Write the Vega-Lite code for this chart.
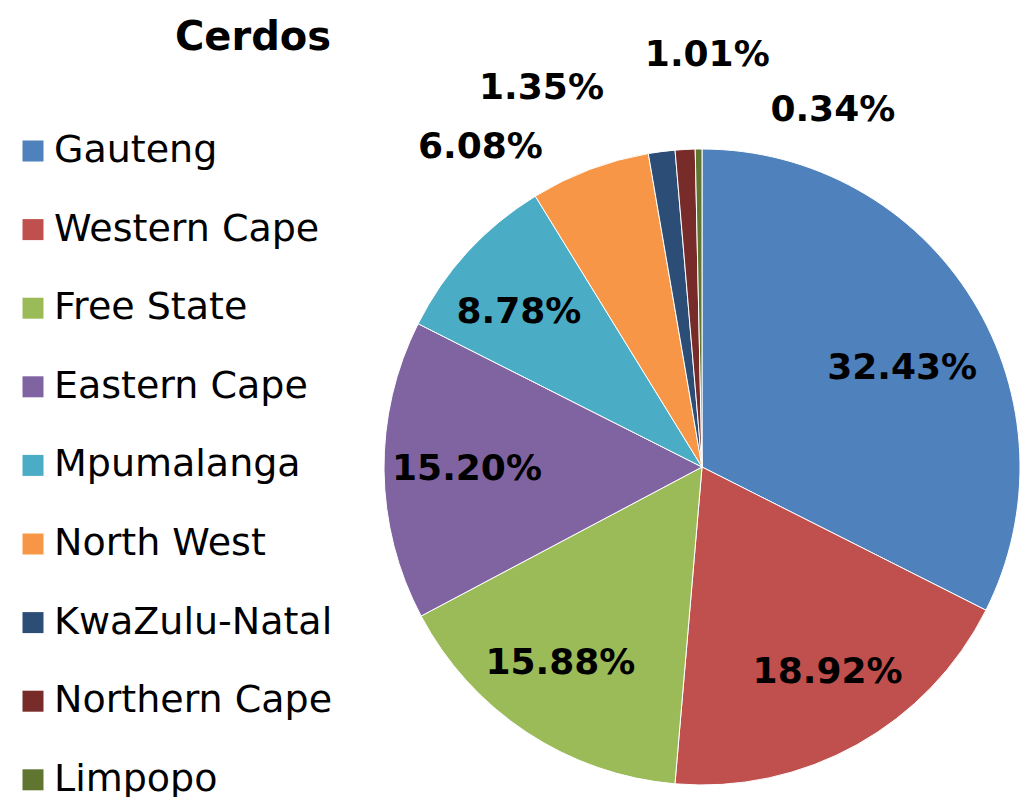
{
  "$schema": "https://vega.github.io/schema/vega-lite/v6.json",
  "width": 662,
  "height": 660,
  "autosize": {"type": "none"},
  "padding": {"left": 371, "top": 137, "right": 0, "bottom": 0},
  "background": "white",
  "title": {
    "text": "Cerdos",
    "font": "DejaVu Sans",
    "fontSize": 40,
    "fontWeight": "bold",
    "color": "black",
    "anchor": "start",
    "frame": "group",
    "dx": -196,
    "offset": -22
  },
  "data": {
    "values": [
      {"provincia": "Gauteng", "pct": 32.43, "rank": 1},
      {"provincia": "Western Cape", "pct": 18.92, "rank": 2},
      {"provincia": "Free State", "pct": 15.88, "rank": 3},
      {"provincia": "Eastern Cape", "pct": 15.20, "rank": 4},
      {"provincia": "Mpumalanga", "pct": 8.78, "rank": 5},
      {"provincia": "North West", "pct": 6.08, "rank": 6},
      {"provincia": "KwaZulu-Natal", "pct": 1.35, "rank": 7},
      {"provincia": "Northern Cape", "pct": 1.01, "rank": 8},
      {"provincia": "Limpopo", "pct": 0.34, "rank": 9}
    ]
  },
  "transform": [
    {"calculate": "format(datum.pct, '.2f') + '%'", "as": "label"}
  ],
  "encoding": {
    "theta": {"field": "pct", "type": "quantitative", "stack": true},
    "order": {"field": "rank", "type": "quantitative"}
  },
  "layer": [
    {
      "mark": {"type": "arc", "outerRadius": 318, "stroke": "white", "strokeWidth": 1},
      "encoding": {
        "color": {
          "field": "provincia",
          "type": "nominal",
          "scale": {
            "domain": ["Gauteng", "Western Cape", "Free State", "Eastern Cape", "Mpumalanga", "North West", "KwaZulu-Natal", "Northern Cape", "Limpopo"],
            "range": ["#4F81BD", "#C0504D", "#9BBB59", "#8064A2", "#4BACC6", "#F79646", "#2C4D75", "#772C2A", "#5F7530"]
          },
          "legend": {
            "title": null,
            "orient": "none",
            "legendX": -357,
            "legendY": -5,
            "padding": 0,
            "symbolType": "square",
            "symbolSize": 441,
            "symbolStrokeWidth": 0,
            "labelFont": "DejaVu Sans",
            "labelFontSize": 38,
            "labelColor": "black",
            "labelOffset": 2,
            "labelLimit": 400,
            "rowPadding": 40.6
          }
        }
      }
    },
    {
      "mark": {"type": "text", "radius": 235, "dy": 24, "font": "DejaVu Sans", "fontSize": 36, "fontWeight": "bold", "color": "black"},
      "encoding": {"text": {"condition": {"test": "datum.provincia == 'Gauteng'", "field": "label"}, "value": ""}}
    },
    {
      "mark": {"type": "text", "radius": 235, "dx": 11, "font": "DejaVu Sans", "fontSize": 36, "fontWeight": "bold", "color": "black"},
      "encoding": {"text": {"condition": {"test": "datum.provincia == 'Western Cape'", "field": "label"}, "value": ""}}
    },
    {
      "mark": {"type": "text", "radius": 235, "dx": -12, "font": "DejaVu Sans", "fontSize": 36, "fontWeight": "bold", "color": "black"},
      "encoding": {"text": {"condition": {"test": "datum.provincia == 'Free State'", "field": "label"}, "value": ""}}
    },
    {
      "mark": {"type": "text", "radius": 235, "font": "DejaVu Sans", "fontSize": 36, "fontWeight": "bold", "color": "black"},
      "encoding": {"text": {"condition": {"test": "datum.provincia == 'Eastern Cape'", "field": "label"}, "value": ""}}
    },
    {
      "mark": {"type": "text", "radius": 235, "dx": -10, "dy": 4, "font": "DejaVu Sans", "fontSize": 36, "fontWeight": "bold", "color": "black"},
      "encoding": {"text": {"condition": {"test": "datum.provincia == 'Mpumalanga'", "field": "label"}, "value": ""}}
    },
    {
      "mark": {"type": "text", "radius": 390, "dx": -84, "dy": 45, "font": "DejaVu Sans", "fontSize": 36, "fontWeight": "bold", "color": "black"},
      "encoding": {"text": {"condition": {"test": "datum.provincia == 'North West'", "field": "label"}, "value": ""}}
    },
    {
      "mark": {"type": "text", "radius": 390, "dx": -111, "dy": 8, "font": "DejaVu Sans", "fontSize": 36, "fontWeight": "bold", "color": "black"},
      "encoding": {"text": {"condition": {"test": "datum.provincia == 'KwaZulu-Natal'", "field": "label"}, "value": ""}}
    },
    {
      "mark": {"type": "text", "radius": 390, "dx": 26, "dy": -23, "font": "DejaVu Sans", "fontSize": 36, "fontWeight": "bold", "color": "black"},
      "encoding": {"text": {"condition": {"test": "datum.provincia == 'Northern Cape'", "field": "label"}, "value": ""}}
    },
    {
      "mark": {"type": "text", "radius": 390, "dx": 135, "dy": 33, "font": "DejaVu Sans", "fontSize": 36, "fontWeight": "bold", "color": "black"},
      "encoding": {"text": {"condition": {"test": "datum.provincia == 'Limpopo'", "field": "label"}, "value": ""}}
    }
  ],
  "config": {"view": {"stroke": null}}
}
